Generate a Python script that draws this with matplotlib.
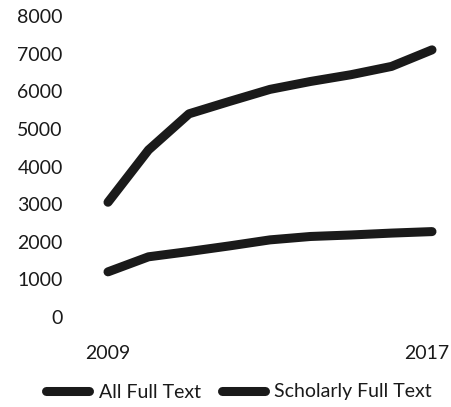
import matplotlib
matplotlib.use("Agg")
import matplotlib.pyplot as plt
import matplotlib.transforms as mtransforms

# -------------------------------
# Data
# -------------------------------
years = [2009, 2010, 2011, 2012, 2013, 2014, 2015, 2016, 2017]
all_full_text = [3050, 4440, 5400, 5730, 6050, 6260, 6440, 6660, 7100]
scholarly_full_text = [1200, 1600, 1740, 1890, 2050, 2140, 2180, 2230, 2270]
y_ticks = [0, 1000, 2000, 3000, 4000, 5000, 6000, 7000, 8000]
x_tick_labels = ["2009", "2017"]

plt.rcParams["font.family"] = ["Lato", "DejaVu Sans"]

fig = plt.figure(figsize=(4.51, 4.07), dpi=100)
ax = fig.add_axes([85 / 451, 90 / 407, 366 / 451, 301 / 407])

line_color = "#1a1a1a"
ax.plot(years, all_full_text, color=line_color, linewidth=6.5,
        solid_capstyle="round", solid_joinstyle="round", label="All Full Text")
ax.plot(years, scholarly_full_text, color=line_color, linewidth=6.5,
        solid_capstyle="round", solid_joinstyle="round", label="Scholarly Full Text")

ax.set_xlim(2009 - 23 / 40.5, 2017 + 19 / 40.5)
ax.set_ylim(0, 8000)
ax.set_yticks(y_ticks)
ax.set_yticklabels([str(v) for v in y_ticks])
ax.set_xticks([years[0], years[-1]])
ax.set_xticklabels(x_tick_labels)

ax.tick_params(axis="both", length=0, labelsize=14, colors="#1a1a1a")
ax.tick_params(axis="y", pad=16)
ax.tick_params(axis="x", pad=20)
for spine in ax.spines.values():
    spine.set_visible(False)

# keep the last year label just inside the right edge
last_label = ax.get_xticklabels()[-1]
last_label.set_ha("right")
last_label.set_transform(last_label.get_transform()
                         + mtransforms.ScaledTranslation(0.17, 0, fig.dpi_scale_trans))

fig.legend(loc="center", bbox_to_anchor=(0.53, 15 / 407), ncol=2,
           frameon=False, fontsize=14, handlelength=2.2, handletextpad=0.5,
           columnspacing=1.1, labelcolor="#1a1a1a")

fig.savefig("out.png", dpi=100)
